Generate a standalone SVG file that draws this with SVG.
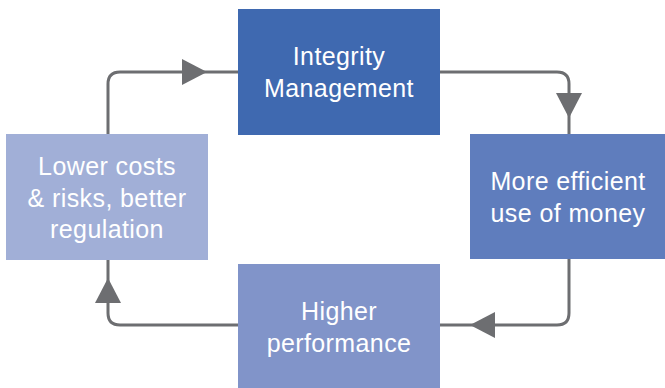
<svg xmlns="http://www.w3.org/2000/svg" width="665" height="388" viewBox="0 0 665 388">
<style>
.lbl{font-family:"Liberation Sans",Arial,sans-serif;font-size:25px;letter-spacing:0.4px;fill:#fff;text-anchor:middle}
.ln{fill:none;stroke:#6d6e71;stroke-width:3}
.ah{fill:#6d6e71}
</style>
<rect width="665" height="388" fill="#fff"/>
<g id="connectors">
<path class="ln" d="M108 134 V84 Q108 72 120 72 H238"/>
<polygon class="ah" points="182,59 207,72 182,85"/>
<path class="ln" d="M440 72 H557 Q569 72 569 84 V134"/>
<polygon class="ah" points="556,93 582,93 569,118"/>
<path class="ln" d="M569 259 V313 Q569 325 557 325 H440"/>
<polygon class="ah" points="495,312 470,325 495,338"/>
<path class="ln" d="M238 325 H120 Q108 325 108 313 V260"/>
<polygon class="ah" points="95,303 121,303 108,278"/>
</g>
<g id="integrity">
<rect x="238" y="9" width="202" height="126" fill="#3f69b0"/>
<text class="lbl" x="339" y="65">Integrity</text>
<text class="lbl" x="339" y="97">Management</text>
</g>
<g id="efficient">
<rect x="470" y="134" width="195" height="125" fill="#5f7dbd"/>
<text class="lbl" x="568" y="190">More efficient</text>
<text class="lbl" x="568" y="222">use of money</text>
</g>
<g id="performance">
<rect x="238" y="264" width="202" height="124" fill="#8194c9"/>
<text class="lbl" x="339" y="320">Higher</text>
<text class="lbl" x="339" y="352">performance</text>
</g>
<g id="lower">
<rect x="6" y="134" width="202" height="126" fill="#a1afd7"/>
<text class="lbl" x="107" y="175">Lower costs</text>
<text class="lbl" x="107" y="207">&amp; risks, better</text>
<text class="lbl" x="107" y="238">regulation</text>
</g>
</svg>
